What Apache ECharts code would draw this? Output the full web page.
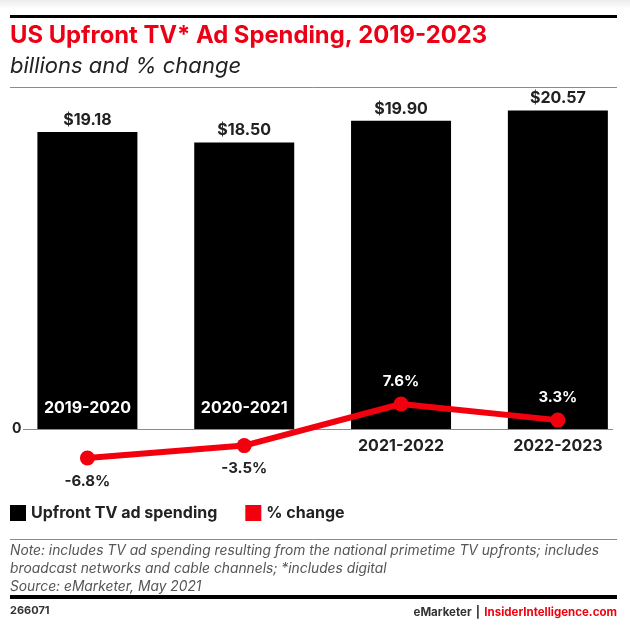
<!DOCTYPE html>
<html>
<head>
<meta charset="utf-8">
<title>US Upfront TV Ad Spending</title>
<script src="https://cdn.jsdelivr.net/npm/echarts@6/dist/echarts.min.js"></script>
<style>
  html, body { margin: 0; padding: 0; background: #fff; }
  #chart { width: 630px; height: 639px; }
</style>
</head>
<body>
<div id="chart"></div>
<script>
// data
var categories = ['2019-2020', '2020-2021', '2021-2022', '2022-2023'];
var spending = [19.18, 18.50, 19.90, 20.57];   // billions
var pctChange = [-6.8, -3.5, 7.6, 3.3];        // % change

var FONT = 'Inter, "Open Sans", sans-serif';
var RED = '#f2000e';

var chart = echarts.init(document.getElementById('chart'));

// bars sit on a value x axis at the category index, so the slots can run a bit past the frame
var barData = spending.map(function (v, i) { return [i, v]; });

// category names: inside the bar where the line dips below zero, under the axis otherwise
var catLabels = categories.map(function (name, i) {
  var inside = pctChange[i] < 0;
  return {
    value: [i, spending[i]],
    label: {
      show: true,
      formatter: name,
      position: inside ? 'insideBottom' : 'bottom',
      distance: inside ? 13 : 9,
      color: inside ? '#fff' : '#222'
    }
  };
});

var lineData = pctChange.map(function (v, i) {
  return {
    value: [i, v],
    label: { position: v < 0 ? 'bottom' : 'top', color: v < 0 ? '#222' : '#fff' }
  };
});

var option = {
  animation: false,
  backgroundColor: '#fff',
  textStyle: { fontFamily: FONT },
  title: [
    {
      text: 'US Upfront TV* Ad Spending, 2019-2023',
      left: 10, top: 24, padding: 0,
      textStyle: { color: '#ec0016', fontSize: 23.8, fontWeight: 'bold', fontFamily: FONT }
    },
    {
      text: 'billions and % change',
      left: 10, top: 55, padding: 0,
      textStyle: { color: '#222', fontSize: 22, fontWeight: 'normal', fontStyle: 'italic', fontFamily: FONT }
    },
    {
      text: 'Note: includes TV ad spending resulting from the national primetime TV upfronts; includes\nbroadcast networks and cable channels; *includes digital\nSource: eMarketer, May 2021',
      left: 10, top: 542, padding: 0,
      textStyle: { color: '#555', fontSize: 13.8, lineHeight: 18, fontWeight: 'normal', fontStyle: 'italic', fontFamily: FONT }
    },
    {
      text: '266071',
      left: 10, top: 605, padding: 0,
      textStyle: { color: '#333', fontSize: 11, fontWeight: 'bold', fontFamily: FONT }
    },
    {
      text: '{a|eMarketer} {s||} {b|InsiderIntelligence.com}',
      right: 13, top: 604, padding: 0,
      textStyle: {
        fontFamily: FONT,
        rich: {
          a: { color: '#333', fontSize: 11.5, fontWeight: 'bold', fontFamily: FONT },
          s: { color: '#333', fontSize: 11.5, fontFamily: FONT },
          b: { color: RED, fontSize: 11.5, fontWeight: 'bold', fontFamily: FONT }
        }
      }
    }
  ],
  legend: {
    data: ['Upfront TV ad spending', '% change'],
    left: 10, top: 505, padding: 0,
    icon: 'rect',
    itemWidth: 16, itemHeight: 16,
    itemGap: 28,
    textStyle: { color: '#222', fontSize: 16, fontWeight: 'bold', fontFamily: FONT }
  },
  grid: { left: 9, right: 0, top: 96, height: 333 },
  xAxis: {
    type: 'value',
    min: -0.5, max: 3.46,
    show: false,
    splitLine: { show: false }
  },
  yAxis: [
    {
      type: 'value',
      min: 0, max: 21.5, interval: 21.5,
      splitLine: { show: false },
      axisLine: { show: false },
      axisTick: { show: false },
      axisLabel: {
        inside: true, margin: 3,
        verticalAlign: 'middle',
        padding: [0, 0, 10, 0],
        color: '#222', fontSize: 14, fontWeight: 'bold',
        formatter: function (v) { return v === 0 ? '0' : ''; }
      }
    },
    {
      type: 'value',
      min: 0.93, max: 89.73,
      show: false,
      splitLine: { show: false }
    }
  ],
  graphic: [
    {
      type: 'rect', shape: { x: 0, y: 0, width: 630, height: 9 }, silent: true,
      style: { fill: new echarts.graphic.LinearGradient(0, 0, 0, 1, [
        { offset: 0, color: '#ececec' }, { offset: 1, color: '#ffffff' }
      ]) }
    },
    { type: 'line', shape: { x1: 10, y1: 16.5, x2: 617, y2: 16.5 }, style: { stroke: '#000', lineWidth: 3 } },
    { type: 'line', shape: { x1: 10, y1: 87.5, x2: 617, y2: 87.5 }, style: { stroke: '#8a8a8a', lineWidth: 1 } },
    { type: 'line', shape: { x1: 23, y1: 429.5, x2: 613, y2: 429.5 }, style: { stroke: '#8a8a8a', lineWidth: 1 } },
    { type: 'line', shape: { x1: 10, y1: 539.5, x2: 617, y2: 539.5 }, style: { stroke: '#8a8a8a', lineWidth: 1 } },
    { type: 'line', shape: { x1: 10, y1: 597, x2: 617, y2: 597 }, style: { stroke: '#000', lineWidth: 4 } }
  ],
  series: [
    {
      name: 'Upfront TV ad spending',
      type: 'bar',
      data: barData,
      barWidth: 100,
      itemStyle: { color: '#000' },
      label: {
        show: true,
        position: 'top',
        distance: 4,
        color: '#222', fontSize: 16, fontWeight: 'bold',
        formatter: function (p) { return '$' + p.value[1].toFixed(2); }
      }
    },
    {
      name: 'cat',
      type: 'bar',
      data: catLabels,
      barWidth: 100,
      barGap: '-100%',
      silent: true,
      itemStyle: { color: 'rgba(0,0,0,0)' },
      label: { fontSize: 16, fontWeight: 'bold' }
    },
    {
      name: '% change',
      type: 'line',
      yAxisIndex: 1,
      clip: false,
      data: lineData,
      symbol: 'circle',
      symbolSize: 15,
      z: 5,
      itemStyle: { color: RED },
      lineStyle: { color: RED, width: 6 },
      label: {
        show: true,
        distance: 8,
        fontSize: 15, fontWeight: 'bold',
        formatter: function (p) { return p.value[1].toFixed(1) + '%'; }
      }
    }
  ]
};

chart.setOption(option);
</script>
</body>
</html>
